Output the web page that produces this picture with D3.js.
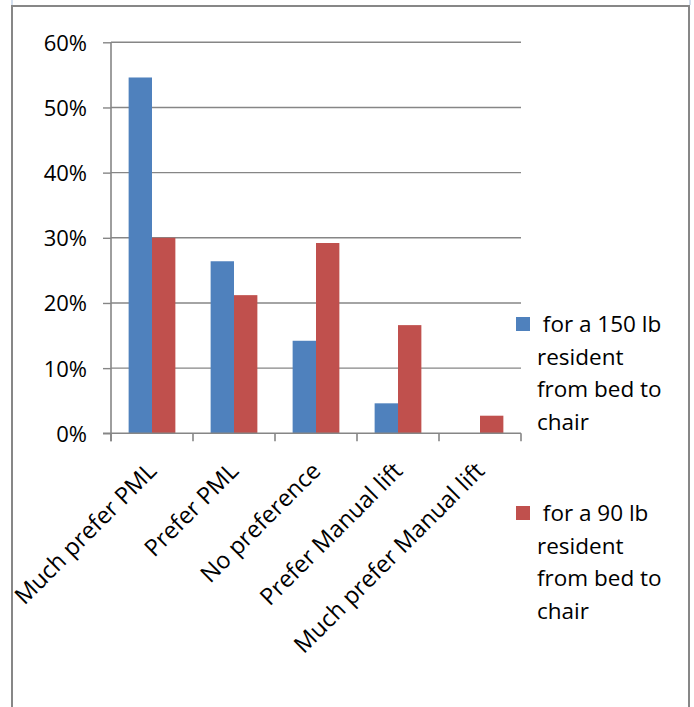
<!DOCTYPE html>
<html><head><meta charset="utf-8">
<script src="https://cdn.jsdelivr.net/npm/d3@7/dist/d3.min.js"></script>
<style>
html,body{margin:0;padding:0;background:#fff;}
svg{display:block;}
text{font-family:"Open Sans","Noto Sans",sans-serif;fill:#000;}
</style></head>
<body>
<svg id="c" width="694" height="707"></svg>
<script>
const categories = ["Much prefer PML","Prefer PML","No preference","Prefer Manual lift","Much prefer Manual lift"];
const seriesNames = ["for a 150 lb resident from bed to chair","for a 90 lb resident from bed to chair"];
const series150 = [0.546, 0.264, 0.142, 0.046, 0];
const series90 = [0.300, 0.212, 0.292, 0.166, 0.027];
const yTicks = [0, 0.1, 0.2, 0.3, 0.4, 0.5, 0.6];
const legendLines = [["\u00a0for a 150 lb","resident","from bed to","chair"],["\u00a0for a 90 lb","resident","from bed to","chair"]];
const colors = ["#4F81BD","#C0504D"];

const svg = d3.select("#c");
const gridColor = "#868686";

// outer frame
svg.append("rect").attr("x",12).attr("y",6).attr("width",677).attr("height",720)
  .attr("fill","none").attr("stroke","#878787").attr("stroke-width",2);
svg.append("line").attr("x1",690).attr("x2",690).attr("y1",0).attr("y2",5).attr("stroke","#c6d4e8").attr("stroke-width",1.5);
svg.append("line").attr("x1",12).attr("x2",12).attr("y1",0).attr("y2",5).attr("stroke","#c6d4e8").attr("stroke-width",1.5);

const pLeft = 111, pRight = 521, pTop = 42.3, pBottom = 433.3;
const y = d3.scaleLinear().domain([0,0.6]).range([pBottom, pTop]);
const x0 = d3.scaleBand().domain(categories).range([pLeft,pRight]).paddingInner(0.43).paddingOuter(0.215);
const x1 = d3.scaleBand().domain([0,1]).range([0,x0.bandwidth()]);

// gridlines
svg.append("g").selectAll("line").data(yTicks.filter(d=>d>0)).join("line")
  .attr("x1",pLeft).attr("x2",pRight).attr("y1",d=>y(d)).attr("y2",d=>y(d))
  .attr("stroke",gridColor).attr("stroke-width",1.4);

// bars
const data = [series150, series90];
const g = svg.append("g");
categories.forEach((c,i)=>{
  data.forEach((s,k)=>{
    if (s[i] > 0) {
      g.append("rect").attr("x",x0(c)+x1(k)).attr("width",x1.bandwidth())
        .attr("y",y(s[i])).attr("height",pBottom - y(s[i])).attr("fill",colors[k]);
    }
  });
});

// y axis
const yAxis = d3.axisLeft(y).tickValues(yTicks).tickFormat(d3.format(".0%")).tickSize(8).tickPadding(16);
const ya = svg.append("g").attr("transform",`translate(${pLeft},0)`).call(yAxis);
ya.select(".domain").attr("stroke",gridColor).attr("stroke-width",1.6).attr("d",`M0,${pTop}V${pBottom+8}`);
ya.selectAll(".tick line").attr("stroke",gridColor).attr("stroke-width",1.4);
ya.selectAll(".tick text").attr("font-size",22).attr("font-family","Open Sans").attr("fill","#000").attr("dy","0.36em");

// x axis
svg.append("line").attr("x1",pLeft-8).attr("x2",pRight).attr("y1",pBottom).attr("y2",pBottom)
  .attr("stroke",gridColor).attr("stroke-width",1.6);
const step = x0.step();
const bounds = categories.map(c=>x0(c) - step*0.215).concat([pRight]);
svg.append("g").selectAll("line").data(bounds).join("line")
  .attr("x1",d=>d).attr("x2",d=>d).attr("y1",pBottom).attr("y2",pBottom+8)
  .attr("stroke",gridColor).attr("stroke-width",1.6);

svg.append("g").selectAll("text").data(categories).join("text")
  .attr("transform",d=>`translate(${x0(d)+x0.bandwidth()/2+6},${pBottom+39}) rotate(-45)`)
  .attr("text-anchor","end").attr("font-size",23.5)
  .text(d=>d);

// legend
const legY = [317, 506];
legendLines.forEach((lines,k)=>{
  svg.append("rect").attr("x",516).attr("y",legY[k]).attr("width",14).attr("height",14).attr("fill",colors[k]);
  const t = svg.append("text").attr("x",537).attr("y",legY[k]+15).attr("font-size",22.5);
  lines.forEach((ln,j)=>{
    t.append("tspan").attr("x",537).attr("dy",j===0?0:32.5).text(ln);
  });
});
</script>
</body></html>
